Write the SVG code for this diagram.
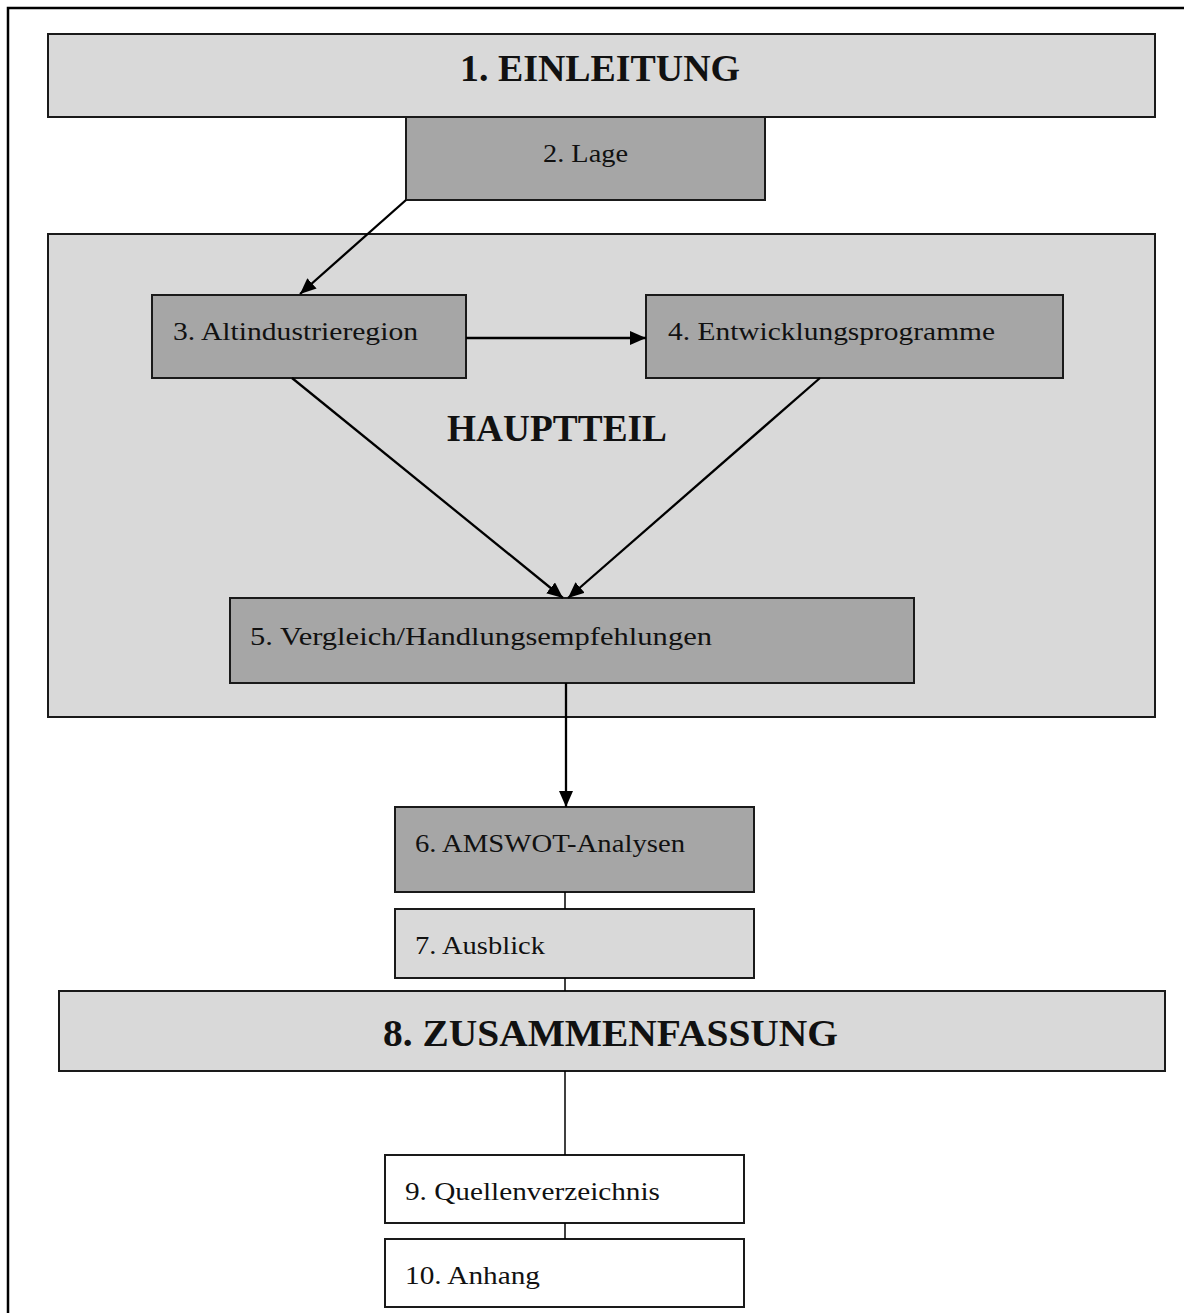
<svg xmlns="http://www.w3.org/2000/svg" width="1184" height="1313" viewBox="0 0 1184 1313">
<defs>
<style>
.light{fill:#d9d9d9;stroke:#1a1a1a;stroke-width:2}
.dark{fill:#a6a6a6;stroke:#1a1a1a;stroke-width:2}
.white{fill:#ffffff;stroke:#1a1a1a;stroke-width:2}
.t{font-family:"Liberation Serif","Times New Roman",serif;font-size:26px;fill:#111}
.b{font-family:"Liberation Serif","Times New Roman",serif;font-size:38px;font-weight:bold;fill:#111}
.c{stroke:#000;stroke-width:2.3;fill:none}
.s{stroke:#000;stroke-width:1.5;fill:none}
</style>
<marker id="ah" viewBox="0 0 16 14" refX="16" refY="7" markerWidth="16" markerHeight="14" markerUnits="userSpaceOnUse" orient="auto">
<path d="M0,0 L16,7 L0,14 Z" fill="#000"/>
</marker>
</defs>
<rect x="0" y="0" width="1184" height="1313" fill="#fff"/>
<path d="M8,1320 L8,8 L1190,8" fill="none" stroke="#000" stroke-width="2.5"/>
<g id="n1"><rect class="light" x="48" y="34" width="1107" height="83"/><text class="b" x="460" y="81" textLength="280" lengthAdjust="spacingAndGlyphs">1. EINLEITUNG</text></g>
<g id="n2"><rect class="dark" x="406" y="117" width="359" height="83"/><text class="t" x="543" y="162" textLength="85" lengthAdjust="spacingAndGlyphs">2. Lage</text></g>
<g id="main"><rect class="light" x="48" y="234" width="1107" height="483"/><text class="b" x="447" y="441" textLength="220" lengthAdjust="spacingAndGlyphs">HAUPTTEIL</text></g>
<g id="n3"><rect class="dark" x="152" y="295" width="314" height="83"/><text class="t" x="173" y="340" textLength="245" lengthAdjust="spacingAndGlyphs">3. Altindustrieregion</text></g>
<g id="n4"><rect class="dark" x="646" y="295" width="417" height="83"/><text class="t" x="668" y="340" textLength="327" lengthAdjust="spacingAndGlyphs">4. Entwicklungsprogramme</text></g>
<g id="n5"><rect class="dark" x="230" y="598" width="684" height="85"/><text class="t" x="250" y="645" textLength="462" lengthAdjust="spacingAndGlyphs">5. Vergleich/Handlungsempfehlungen</text></g>
<g id="n6"><rect class="dark" x="395" y="807" width="359" height="85"/><text class="t" x="415" y="852" textLength="270" lengthAdjust="spacingAndGlyphs">6. AMSWOT-Analysen</text></g>
<g id="n7"><rect class="light" x="395" y="909" width="359" height="69"/><text class="t" x="415" y="954" textLength="130" lengthAdjust="spacingAndGlyphs">7. Ausblick</text></g>
<g id="n8"><rect class="light" x="59" y="991" width="1106" height="80"/><text class="b" x="383" y="1046" textLength="455" lengthAdjust="spacingAndGlyphs">8. ZUSAMMENFASSUNG</text></g>
<g id="n9"><rect class="white" x="385" y="1155" width="359" height="68"/><text class="t" x="405" y="1200" textLength="255" lengthAdjust="spacingAndGlyphs">9. Quellenverzeichnis</text></g>
<g id="n10"><rect class="white" x="385" y="1239" width="359" height="68"/><text class="t" x="405" y="1284" textLength="135" lengthAdjust="spacingAndGlyphs">10. Anhang</text></g>
<g id="connectors">
<line class="c" x1="406" y1="200" x2="300" y2="294" marker-end="url(#ah)"/>
<line class="c" x1="466" y1="338" x2="646" y2="338" marker-end="url(#ah)"/>
<line class="c" x1="292" y1="378" x2="563" y2="598" marker-end="url(#ah)"/>
<line class="c" x1="820" y1="378" x2="568" y2="598" marker-end="url(#ah)"/>
<line class="c" x1="566" y1="683" x2="566" y2="807" marker-end="url(#ah)"/>
<line class="s" x1="565" y1="892" x2="565" y2="909"/>
<line class="s" x1="565" y1="978" x2="565" y2="991"/>
<line class="s" x1="565" y1="1071" x2="565" y2="1155"/>
<line class="s" x1="565" y1="1223" x2="565" y2="1239"/>
</g>
</svg>
